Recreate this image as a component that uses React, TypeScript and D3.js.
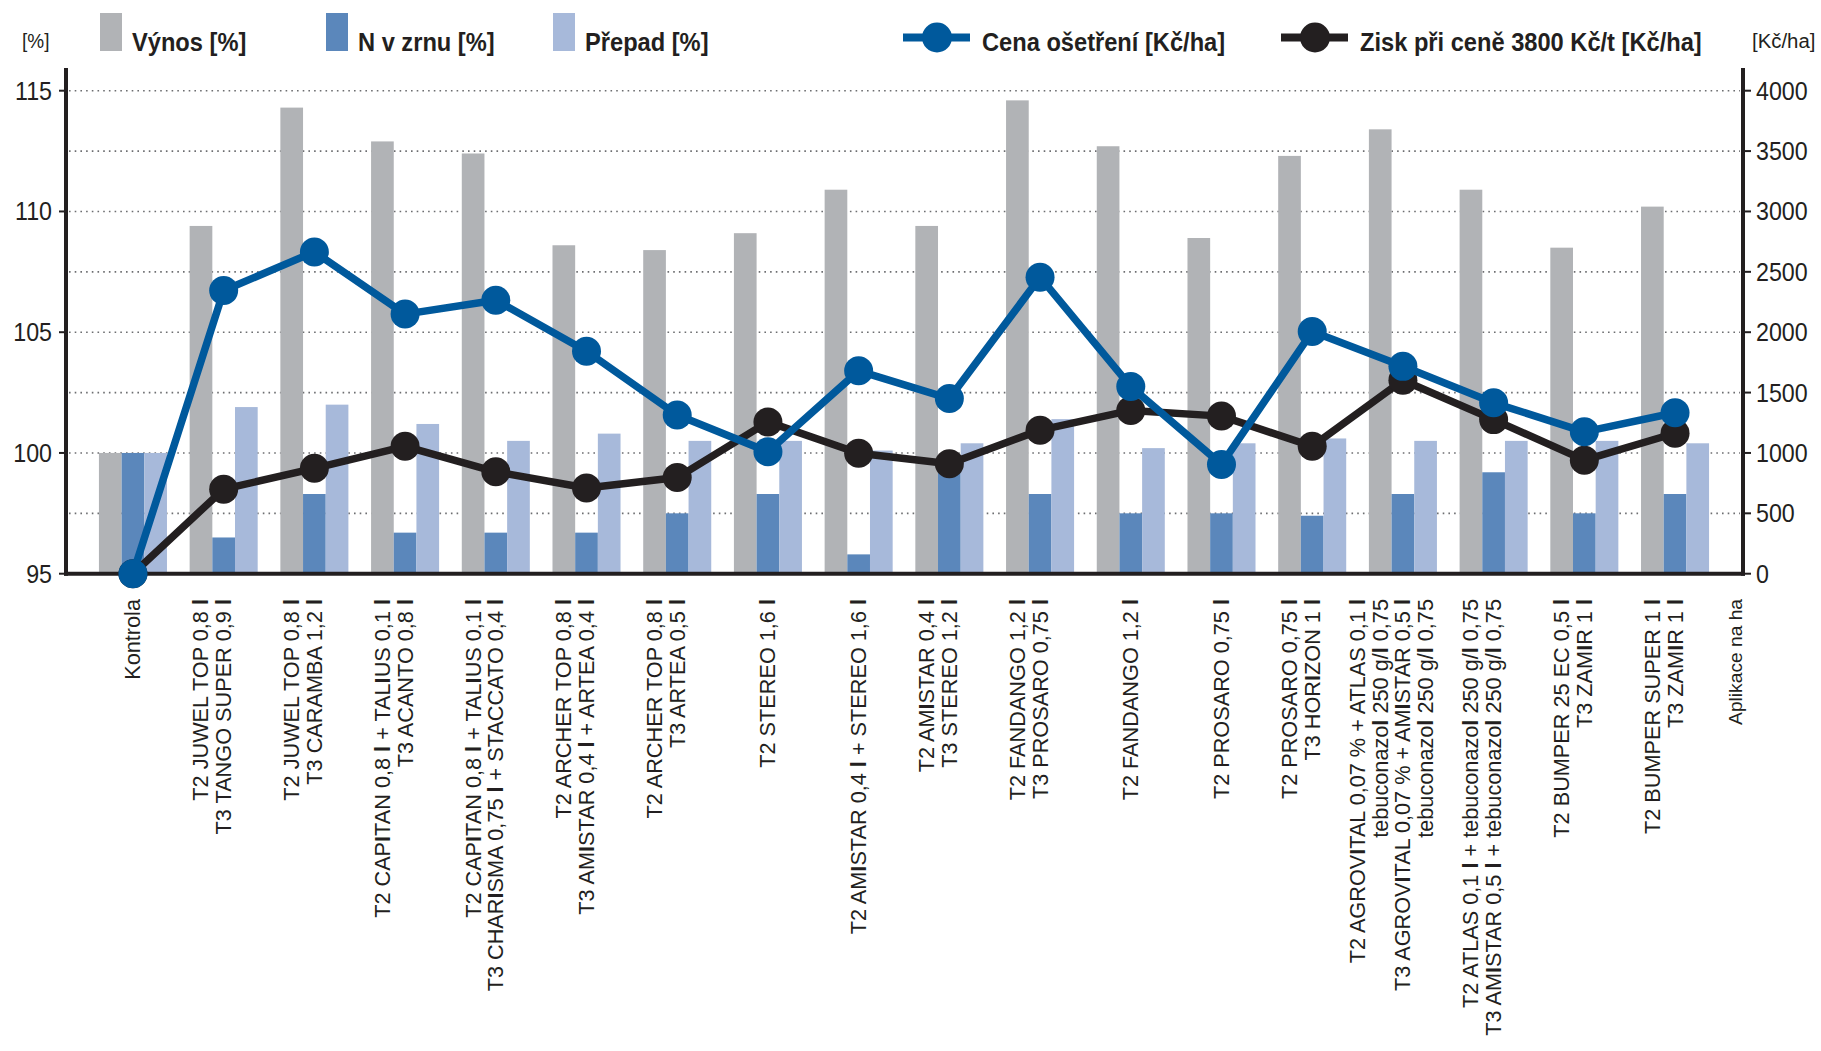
import React from "react";
import * as d3 from "d3";

const categories: string[][] = [
  ["Kontrola"],
  ["T2 JUWEL TOP 0,8 l", "T3 TANGO SUPER 0,9 l"],
  ["T2 JUWEL TOP 0,8 l", "T3 CARAMBA 1,2 l"],
  ["T2 CAPITAN 0,8 l + TALIUS 0,1 l", "T3 ACANTO 0,8 l"],
  ["T2 CAPITAN 0,8 l + TALIUS 0,1 l", "T3 CHARISMA 0,75 l + STACCATO 0,4 l"],
  ["T2 ARCHER TOP 0,8 l", "T3 AMISTAR 0,4 l + ARTEA 0,4 l"],
  ["T2 ARCHER TOP 0,8 l", "T3 ARTEA 0,5 l"],
  ["T2 STEREO 1,6 l"],
  ["T2 AMISTAR 0,4 l + STEREO 1,6 l"],
  ["T2 AMISTAR 0,4 l", "T3 STEREO 1,2 l"],
  ["T2 FANDANGO 1,2 l", "T3 PROSARO 0,75 l"],
  ["T2 FANDANGO 1,2 l"],
  ["T2 PROSARO 0,75 l"],
  ["T2 PROSARO 0,75 l", "T3 HORIZON 1 l"],
  [
    "T2 AGROVITAL 0,07 % + ATLAS 0,1 l",
    "tebuconazol 250 g/l 0,75",
    "T3 AGROVITAL 0,07 % + AMISTAR 0,5 l",
    "tebuconazol 250 g/l 0,75",
  ],
  ["T2 ATLAS 0,1 l + tebuconazol 250 g/l 0,75", "T3 AMISTAR 0,5 l + tebuconazol 250 g/l 0,75"],
  ["T2 BUMPER 25 EC 0,5 l", "T3 ZAMIR 1 l"],
  ["T2 BUMPER SUPER 1 l", "T3 ZAMIR 1 l"],
];

const vynos = [100, 109.4, 114.3, 112.9, 112.4, 108.6, 108.4, 109.1, 110.9, 109.4, 114.6, 112.7, 108.9, 112.3, 113.4, 110.9, 108.5, 110.2];
const nZrnu = [100, 96.5, 98.3, 96.7, 96.7, 96.7, 97.5, 98.3, 95.8, 99.8, 98.3, 97.5, 97.5, 97.4, 98.3, 99.2, 97.5, 98.3];
const prepad = [100, 101.9, 102.0, 101.2, 100.5, 100.8, 100.5, 100.5, 100.1, 100.4, 101.4, 100.2, 100.4, 100.6, 100.5, 100.5, 100.5, 100.4];
const cena = [0, 2345, 2665, 2150, 2265, 1842, 1314, 1010, 1680, 1450, 2456, 1550, 905, 2005, 1717, 1415, 1175, 1333];
const zisk = [0, 700, 873, 1055, 844, 710, 796, 1257, 998, 911, 1189, 1352, 1305, 1055, 1602, 1276, 940, 1163];

const leftTicks = [95, 100, 105, 110, 115];
const leftGrid = [97.5, 100, 102.5, 105, 107.5, 110, 112.5, 115];
const rightTicks = [0, 500, 1000, 1500, 2000, 2500, 3000, 3500, 4000];

const barSeries = ["Výnos [%]", "N v zrnu [%]", "Přepad [%]"];
const lineSeries = ["Cena ošetření [Kč/ha]", "Zisk při ceně 3800 Kč/t [Kč/ha]"];
const leftUnit = "[%]";
const rightUnit = "[Kč/ha]";
const xAxisNote = "Aplikace na ha";

const BAR_COLORS = ["#b1b3b6", "#5b87bb", "#a7b9da"];
const CENA_COLOR = "#00599c";
const ZISK_COLOR = "#231f20";
const AXIS = "#231f20";
const FONT = "'Liberation Sans', Arial, Helvetica, sans-serif";

function segments(s: string, boldable: boolean) {
  const out: { t: string; b: boolean }[] = [];
  for (const ch of s) {
    const b = boldable && (ch === "l" || ch === "I");
    if (out.length && out[out.length - 1].b === b) out[out.length - 1].t += ch;
    else out.push({ t: ch, b });
  }
  return out;
}

export default function App() {
  const W = 1821;
  const H = 1051;
  const xL = 66;
  const xR = 1743;
  const yTop = 90.7;
  const yBot = 573.7;

  const idx = categories.map((_, i) => String(i));
  const x = d3.scaleBand<string>().domain(idx).range([87.6, 1720.4]).padding(0);
  const xs = d3.scaleBand<string>().domain(["0", "1", "2"]).range([0, x.bandwidth()]).paddingOuter(0.5).paddingInner(0);
  const yL = d3.scaleLinear().domain([95, 115]).range([yBot, yTop]);
  const yR = d3.scaleLinear().domain([0, 4000]).range([yBot, yTop]);
  const cx = (i: number) => (x(String(i)) as number) + x.bandwidth() / 2;

  const lineGen = d3
    .line<number>()
    .x((_, i) => cx(i))
    .y((d) => yR(d));

  const barData = [vynos, nZrnu, prepad];
  const lh = 22.7;
  const labelTop = 599;

  return (
    <svg width={W} height={H} style={{ display: "block", position: "absolute", left: 0, top: 0, background: "#fff" }} fontFamily={FONT}>
      <rect x={0} y={0} width={W} height={H} fill="#fff" />
      {/* gridlines */}
      {leftGrid.map((v) => (
        <line key={"g" + v} x1={xL + 3} x2={xR - 3} y1={yL(v)} y2={yL(v)} stroke="#6d6e71" strokeWidth={1.6} strokeDasharray="1.6 4.1" />
      ))}
      {/* bars */}
      {barData.map((arr, s) =>
        arr.map((v, i) => (
          <rect
            key={`b${s}-${i}`}
            x={(x(String(i)) as number) + (xs(String(s)) as number)}
            y={yL(v)}
            width={xs.bandwidth()}
            height={yBot - yL(v)}
            fill={BAR_COLORS[s]}
          />
        ))
      )}
      {/* axes */}
      <line x1={xL} x2={xL} y1={68} y2={yBot + 2} stroke={AXIS} strokeWidth={4} />
      <line x1={xR} x2={xR} y1={68} y2={yBot + 2} stroke={AXIS} strokeWidth={4} />
      <line x1={xL - 2} x2={xR + 2} y1={yBot} y2={yBot} stroke={AXIS} strokeWidth={4} />
      {leftTicks.map((v) => (
        <g key={"lt" + v}>
          <line x1={xL - 7} x2={xL} y1={yL(v)} y2={yL(v)} stroke={AXIS} strokeWidth={2} />
          <text transform={`translate(${52},${yL(v) + 9}) scale(0.93,1)`} textAnchor="end" fontSize={25} fill="#231f20">
            {v}
          </text>
        </g>
      ))}
      {rightTicks.map((v) => (
        <g key={"rt" + v}>
          <line x1={xR} x2={xR + 8} y1={yR(v)} y2={yR(v)} stroke={AXIS} strokeWidth={2} />
          <text transform={`translate(${1756},${yR(v) + 9}) scale(0.93,1)`} textAnchor="start" fontSize={25} fill="#231f20">
            {v}
          </text>
        </g>
      ))}
      {/* lines */}
      <path d={lineGen(zisk) || ""} fill="none" stroke={ZISK_COLOR} strokeWidth={7.5} strokeLinejoin="round" />
      {zisk.map((v, i) => (
        <circle key={"zc" + i} cx={cx(i)} cy={yR(v)} r={14.5} fill={ZISK_COLOR} />
      ))}
      <path d={lineGen(cena) || ""} fill="none" stroke={CENA_COLOR} strokeWidth={7.5} strokeLinejoin="round" />
      {cena.map((v, i) => (
        <circle key={"cc" + i} cx={cx(i)} cy={yR(v)} r={14.5} fill={CENA_COLOR} />
      ))}
      {/* x labels */}
      {categories.map((lines, i) => {
        const n = lines.length;
        return lines.map((ln, j) => {
          const off = (j - (n - 1) / 2) * lh - (n > 1 ? lh / 2 : 0);
          const bx = cx(i) + off + 7.5;
          return (
            <text
              key={`xl${i}-${j}`}
              transform={`translate(${bx},${labelTop}) rotate(-90)`}
              textAnchor="end"
              fontSize={21.7}
              fill="#231f20"
            >
              {segments(ln, i > 0).map((sg, k) => (
                <tspan key={k} fontWeight={sg.b ? "bold" : "normal"}>
                  {sg.t}
                </tspan>
              ))}
            </text>
          );
        });
      })}
      <text transform={`translate(${xR - 1},${labelTop}) rotate(-90)`} textAnchor="end" fontSize={19.2} fill="#231f20">
        {xAxisNote}
      </text>
      {/* legend */}
      <text transform="translate(22,48) scale(0.95,1)" fontSize={20} fill="#231f20">
        {leftUnit}
      </text>
      <text transform="translate(1752,48) scale(1.02,1)" fontSize={20} fill="#231f20">
        {rightUnit}
      </text>
      {[100, 326, 553].map((lx, s) => (
        <g key={"lg" + s}>
          <rect x={lx} y={13} width={22} height={38} fill={BAR_COLORS[s]} />
          <text transform={`translate(${lx + 32},51) scale(0.91,1)`} fontSize={26} fontWeight="bold" fill="#231f20">
            {barSeries[s]}
          </text>
        </g>
      ))}
      {[
        { lx: 903, c: CENA_COLOR },
        { lx: 1281, c: ZISK_COLOR },
      ].map((it, s) => (
        <g key={"ll" + s}>
          <line x1={it.lx} x2={it.lx + 67} y1={37.5} y2={37.5} stroke={it.c} strokeWidth={8} />
          <circle cx={it.lx + 34} cy={37.5} r={15} fill={it.c} />
          <text transform={`translate(${it.lx + 79},51) scale(0.91,1)`} fontSize={26} fontWeight="bold" fill="#231f20">
            {lineSeries[s]}
          </text>
        </g>
      ))}
    </svg>
  );
}
